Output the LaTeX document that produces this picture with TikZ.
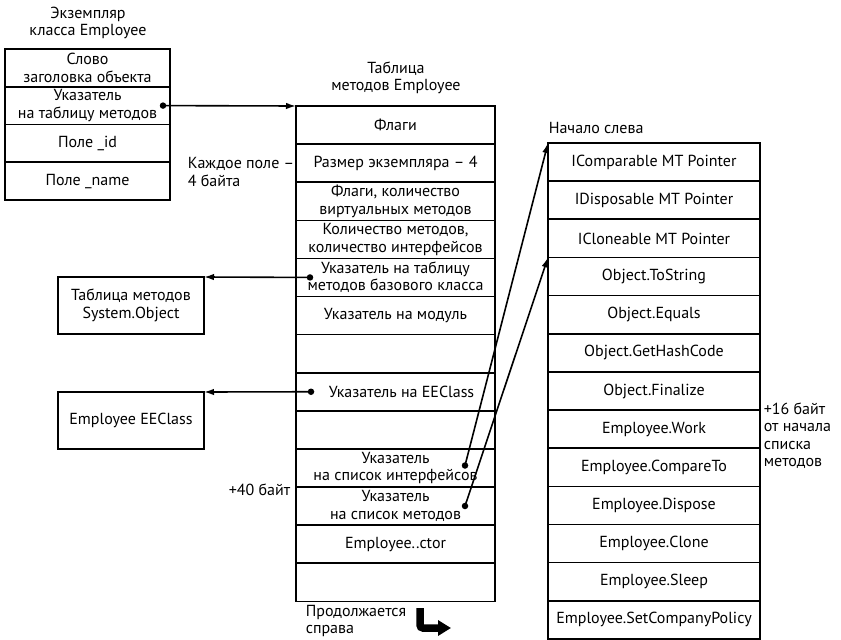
\documentclass[tikz,border=0pt]{standalone}
\usepackage{fontspec}
\setmainfont{PT Sans}
\usetikzlibrary{arrows.meta}

\begin{document}
\begin{tikzpicture}[x=1pt, y=-1pt, line width=1.6pt,
    txt/.style={inner sep=0pt, align=center, font=\fontsize{16}{17.5}\selectfont},
    cell/.style={txt, draw, rectangle, outer sep=0pt},
    inst/.style={cell, minimum width=165pt, minimum height=37.75pt},
    mt/.style={cell, minimum width=199pt, minimum height=38.1pt},
    ml/.style={cell, minimum width=212pt, minimum height=38.15pt},
    ext/.style={cell, minimum width=146pt, minimum height=57pt},
    dot/.style={circle, fill, inner sep=0pt, minimum size=6.5pt},
    ptr/.style={-{Latex[length=10pt,width=6.5pt]}}]
  \useasboundingbox (0,0) rectangle (841,640);

  % instance of the class
  \node[txt] (insttitle) at (88,23) {Экземпляр\\класса Employee};
  \node[inst] (inst1) at (87.5,67.9) {Слово\\заголовка объекта};
  \node[inst] (inst2) at (87.5,105.6) {Указатель\\на таблицу методов};
  \node[inst] (inst3) at (87.5,143.4) {Поле \_id};
  \node[inst] (inst4) at (87.5,181.1) {Поле \_name};

  % method table
  \node[txt] (mttitle) at (396,78) {Таблица\\методов Employee};
  \node[mt] (mt1) at (395.5,125.05) {Флаги};
  \node[mt] (mt2) at (395.5,163.15) {Размер экземпляра – 4};
  \node[mt] (mt3) at (395.5,201.25) {Флаги, количество\\виртуальных методов};
  \node[mt] (mt4) at (395.5,239.35) {Количество методов,\\количество интерфейсов};
  \node[mt] (mt5) at (395.5,277.45) {Указатель на таблицу\\методов базового класса};
  \node[mt] (mt6) at (395.5,315.55) {Указатель на модуль};
  \node[mt] (mt7) at (395.5,353.65) {};
  \node[mt] (mt8) at (395.5,391.75) {\hspace{12pt}Указатель на EEClass};
  \node[mt] (mt9) at (395.5,429.85) {};
  \node[mt] (mt10) at (395.5,467.95) {Указатель\\на список интерфейсов};
  \node[mt] (mt11) at (395.5,506.05) {Указатель\\на список методов};
  \node[mt] (mt12) at (395.5,544.15) {Employee..ctor};
  \node[mt] (mt13) at (395.5,582.25) {};

  \node[txt, anchor=west, align=left] (each) at (187,172) {Каждое поле –\\4 байта};
  \node[txt, anchor=east] (plus40) at (291,490) {+40 байт};
  \node[txt, anchor=west, align=left] (cont) at (305,621) {Продолжается\\справа};

  % other tables
  \node[ext] (sysobj) at (131,305.5) {Таблица методов\\System.Object};
  \node[ext] (eeclass) at (131,420.5) {Employee EEClass};

  % method list
  \node[txt, anchor=west] (start) at (548,128) {Начало слева};
  \node[ml] (ml1) at (654,162.1) {IComparable MT Pointer};
  \node[ml] (ml2) at (654,200.2) {IDisposable MT Pointer};
  \node[ml] (ml3) at (654,238.4) {ICloneable MT Pointer};
  \node[ml] (ml4) at (654,276.5) {Object.ToString};
  \node[ml] (ml5) at (654,314.7) {Object.Equals};
  \node[ml] (ml6) at (654,352.8) {Object.GetHashCode};
  \node[ml] (ml7) at (654,391.0) {Object.Finalize};
  \node[ml] (ml8) at (654,429.1) {Employee.Work};
  \node[ml] (ml9) at (654,467.3) {Employee.CompareTo};
  \node[ml] (ml10) at (654,505.4) {Employee.Dispose};
  \node[ml] (ml11) at (654,543.5) {Employee.Clone};
  \node[ml] (ml12) at (654,581.7) {Employee.Sleep};
  \node[ml] (ml13) at (654,619.8) {Employee.SetCompanyPolicy};
  \node[txt, anchor=north west, align=left] (plus16) at (763,402) {+16 байт\\от начала\\списка\\методов};

  % pointers
  \node[dot] (d1) at (163,105.6) {};
  \node[dot] (d2) at (310,277.45) {};
  \node[dot] (d3) at (311,391.75) {};
  \node[dot] (d4) at (465,465.5) {};
  \node[dot] (d5) at (465,506) {};

  \draw[ptr] (d1.center) -- (mt1.north west);
  \draw[ptr] (d2.center) -- (sysobj.north east);
  \draw[ptr] (d3.center) -- (eeclass.north east);
  \draw[ptr] (d4.center) -- (ml1.north west);
  \draw[ptr] (d5.center) -- (ml4.north west);

  \coordinate (b1) at (420,608);
  \coordinate (b2) at (420,628);
  \coordinate (b3) at (451,628);
  \draw[line width=7.5pt, rounded corners=3pt, -{Triangle[length=13pt,width=15pt]}] (b1) -- (b2) -- (b3);
\end{tikzpicture}
\end{document}
